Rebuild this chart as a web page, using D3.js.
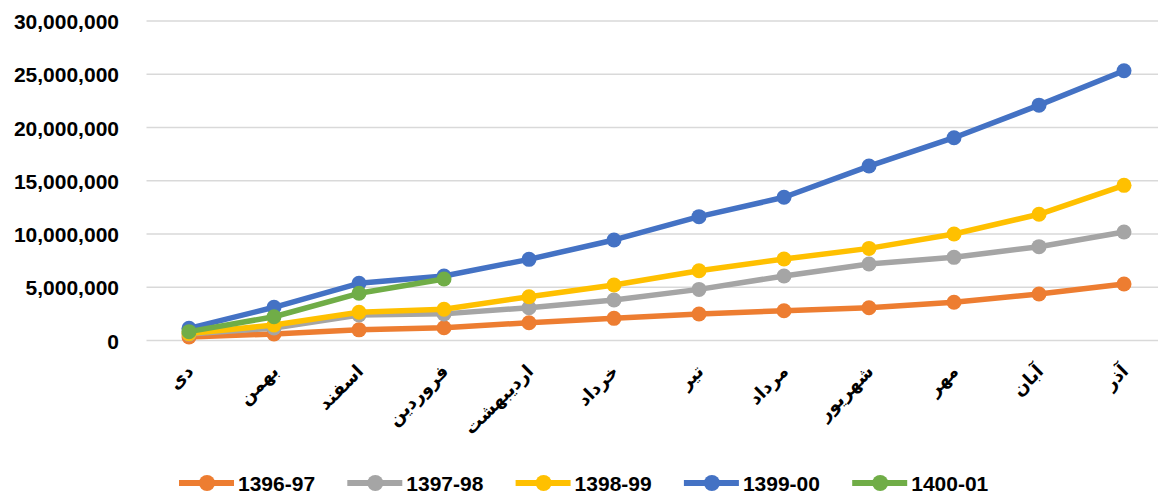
<!DOCTYPE html>
<html>
<head>
<meta charset="utf-8">
<script src="https://cdn.jsdelivr.net/npm/d3@7"></script>
<style>
  body { margin: 0; background: #fff; }
  svg { display: block; }
  .ylab text { font-family: "Liberation Sans", Arial, sans-serif; font-weight: bold; font-size: 21px; fill: #000; }
  .xlab text { font-family: "DejaVu Sans", sans-serif; font-weight: bold; font-size: 18px; fill: #000; }
  .legend text { font-family: "Liberation Sans", sans-serif; font-weight: bold; font-size: 21px; fill: #000; }
</style>
</head>
<body>
<svg></svg>
<script>
var width = 1158;
var height = 498;

// months (Persian calendar, starting from Dey)
var months = ["دی", "بهمن", "اسفند", "فروردین", "اردیبهشت", "خرداد", "تیر", "مرداد", "شهریور", "مهر", "آبان", "آذر"];

var s1396 = [330000, 620000, 1000000, 1200000, 1670000, 2080000, 2490000, 2800000, 3080000, 3590000, 4370000, 5300000];
var s1397 = [600000, 1170000, 2400000, 2500000, 3080000, 3800000, 4800000, 6060000, 7180000, 7810000, 8810000, 10190000];
var s1398 = [650000, 1450000, 2650000, 2930000, 4110000, 5210000, 6550000, 7650000, 8650000, 10000000, 11850000, 14570000];
var s1399 = [1140000, 3120000, 5370000, 6060000, 7620000, 9440000, 11630000, 13450000, 16380000, 19040000, 22100000, 25330000];
var s1400 = [830000, 2230000, 4430000, 5770000];

var seriesNames = ["1396-97", "1397-98", "1398-99", "1399-00", "1400-01"];
var seriesColors = ["#ED7D31", "#A5A5A5", "#FFC000", "#4472C4", "#70AD47"];
var yTicks = [0, 5000000, 10000000, 15000000, 20000000, 25000000, 30000000];

var series = [s1396, s1397, s1398, s1399, s1400].map(function(vals, i) {
  return { name: seriesNames[i], color: seriesColors[i], values: vals };
});

var svg = d3.select("svg")
            .attr("width", width)
            .attr("height", height);

var xScale = d3.scaleBand()
               .domain(months)
               .range([146.5, 1166.5]);

var yScale = d3.scaleLinear()
               .domain([0, 30000000])
               .range([340.5, 21]);

// gridlines
svg.append("g")
   .selectAll("line")
   .data(yTicks)
   .enter()
   .append("line")
   .attr("x1", 146.5)
   .attr("x2", 1166.5)
   .attr("y1", function(d) { return yScale(d); })
   .attr("y2", function(d) { return yScale(d); })
   .attr("stroke", "#D9D9D9")
   .attr("stroke-width", 1.5);

// y axis labels
var yAxis = d3.axisLeft(yScale)
              .tickValues(yTicks)
              .tickFormat(d3.format(","))
              .tickSize(0)
              .tickPadding(0);

svg.append("g")
   .attr("class", "ylab")
   .attr("transform", "translate(119,0)")
   .call(yAxis)
   .call(function(g) { g.select(".domain").remove(); })
   .selectAll("text")
   .attr("dy", "0.36em");

// x axis labels, rotated -45
var xAxis = d3.axisBottom(xScale).tickSize(0).tickPadding(0);
var xg = svg.append("g")
   .attr("class", "xlab")
   .attr("transform", "translate(0,368)")
   .call(xAxis);
xg.select(".domain").remove();
xg.selectAll("text")
  .attr("text-anchor", "end")
  .attr("y", 0)
  .attr("dy", "0.35em")
  .attr("transform", "translate(1,0) rotate(-45)");

// lines
var line = d3.line()
             .x(function(d, i) { return xScale(months[i]) + xScale.bandwidth() / 2; })
             .y(function(d) { return yScale(d); });

var sg = svg.selectAll(".series")
            .data(series)
            .enter()
            .append("g")
            .attr("class", "series");

sg.append("path")
  .attr("d", function(d) { return line(d.values); })
  .attr("fill", "none")
  .attr("stroke", function(d) { return d.color; })
  .attr("stroke-width", 5.5)
  .attr("stroke-linejoin", "round");

sg.selectAll("circle")
  .data(function(d) { return d.values.map(function(v, i) { return { v: v, i: i, color: d.color }; }); })
  .enter()
  .append("circle")
  .attr("cx", function(d) { return xScale(months[d.i]) + xScale.bandwidth() / 2; })
  .attr("cy", function(d) { return yScale(d.v); })
  .attr("r", 7.5)
  .attr("fill", function(d) { return d.color; });

// legend
var legend = svg.append("g")
                .attr("class", "legend")
                .selectAll("g")
                .data(series)
                .enter()
                .append("g")
                .attr("transform", function(d, i) { return "translate(" + (179 + i * 168.3) + ",483)"; });

legend.append("line")
      .attr("x1", 0)
      .attr("x2", 55)
      .attr("stroke", function(d) { return d.color; })
      .attr("stroke-width", 6);

legend.append("circle")
      .attr("cx", 28)
      .attr("r", 8)
      .attr("fill", function(d) { return d.color; });

legend.append("text")
      .attr("x", 59)
      .attr("dy", "0.36em")
      .text(function(d) { return d.name; });
</script>
</body>
</html>
